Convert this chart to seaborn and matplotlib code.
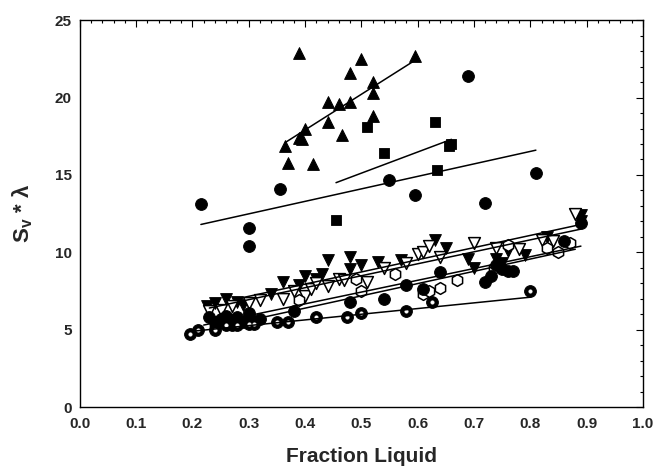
import numpy as np
import pandas as pd
import matplotlib
matplotlib.use('Agg')
import matplotlib.pyplot as plt
import seaborn as sns
from matplotlib.ticker import MultipleLocator

# ---- data ----
# filled up-triangles
tri_up_x = [0.39, 0.50, 0.595, 0.48, 0.52, 0.52, 0.44, 0.46, 0.48, 0.44, 0.52, 0.40,
            0.39, 0.395, 0.465, 0.365, 0.37, 0.415]
tri_up_y = [22.9, 22.5, 22.7, 21.6, 21.0, 20.3, 19.7, 19.6, 19.7, 18.4, 18.8, 18.0,
            17.4, 17.3, 17.6, 16.9, 15.8, 15.7]
# filled squares
square_x = [0.51, 0.63, 0.54, 0.66, 0.655, 0.635, 0.455]
square_y = [18.1, 18.4, 16.4, 17.0, 16.9, 15.3, 12.1]
# filled circles (upper group)
circ_hi_x = [0.215, 0.355, 0.55, 0.595, 0.69, 0.81, 0.72, 0.30, 0.30]
circ_hi_y = [13.1, 14.1, 14.7, 13.7, 21.4, 15.1, 13.2, 11.6, 10.4]
# filled down-triangles
tri_dn_x = [0.225, 0.24, 0.26, 0.28, 0.29, 0.34, 0.36, 0.39, 0.40, 0.42, 0.43, 0.44,
            0.48, 0.48, 0.50, 0.53, 0.57, 0.63, 0.65, 0.69, 0.70, 0.74, 0.75, 0.76,
            0.79, 0.83, 0.89, 0.89]
tri_dn_y = [6.5, 6.7, 7.0, 6.8, 6.6, 7.3, 8.1, 7.9, 8.5, 8.3, 8.6, 9.5,
            9.7, 8.9, 9.2, 9.4, 9.5, 10.8, 10.3, 9.6, 9.0, 9.6, 9.3, 10.1,
            9.8, 11.0, 12.4, 12.0]
# open down-triangles
tri_open_x = [0.23, 0.25, 0.27, 0.30, 0.32, 0.36, 0.38, 0.40, 0.41, 0.42, 0.44, 0.46,
              0.47, 0.51, 0.54, 0.58, 0.60, 0.61, 0.62, 0.64, 0.70, 0.74, 0.78, 0.82,
              0.84, 0.88]
tri_open_y = [6.2, 6.3, 6.5, 6.7, 6.9, 7.0, 7.5, 7.2, 7.6, 8.0, 7.8, 8.3,
              8.2, 8.1, 9.0, 9.3, 9.9, 10.0, 10.4, 9.7, 10.6, 10.3, 10.2, 10.8,
              10.7, 12.5]
# open hexagons
hex_x = [0.24, 0.39, 0.49, 0.50, 0.56, 0.61, 0.62, 0.64, 0.67, 0.735, 0.76, 0.83, 0.85, 0.87]
hex_y = [5.2, 6.9, 8.3, 7.5, 8.6, 7.3, 7.5, 7.7, 8.2, 9.0, 10.5, 10.3, 10.0, 10.6]
# filled circles (lower group)
circ_lo_x = [0.23, 0.24, 0.25, 0.26, 0.27, 0.28, 0.29, 0.30, 0.30, 0.27, 0.31, 0.32,
             0.38, 0.48, 0.54, 0.58, 0.64, 0.61, 0.72, 0.73, 0.75, 0.76, 0.77, 0.74,
             0.86, 0.89]
circ_lo_y = [5.8, 5.5, 5.7, 5.9, 5.6, 5.8, 5.5, 5.9, 6.1, 5.3, 5.5, 5.7,
             6.2, 6.8, 7.0, 7.9, 8.7, 7.6, 8.1, 8.5, 8.9, 8.8, 8.8, 9.2,
             10.7, 11.9]
# dotted circles
dot_x = [0.195, 0.21, 0.24, 0.26, 0.28, 0.30, 0.31, 0.35, 0.37, 0.42, 0.475, 0.50,
         0.58, 0.625, 0.80]
dot_y = [4.7, 5.0, 5.0, 5.3, 5.3, 5.4, 5.4, 5.5, 5.5, 5.8, 5.8, 6.1, 6.2, 6.8, 7.5]

# fitted lines (end points)
fit_tri_up = ([0.365, 0.595], [17.1, 22.4])
fit_square = ([0.455, 0.66], [14.5, 17.3])
fit_circ_hi = ([0.215, 0.81], [11.8, 16.6])
fit_tri_dn = ([0.28, 0.89], [7.0, 11.8])
fit_tri_open = ([0.23, 0.89], [6.4, 11.5])
fit_hex = ([0.30, 0.88], [5.6, 10.2])
fit_circ_lo = ([0.22, 0.89], [5.3, 10.4])
fit_dot = ([0.20, 0.80], [4.9, 7.1])

sns.set_style('white')
plt.rcParams['font.family'] = ['Liberation Sans', 'DejaVu Sans']

fig = plt.figure(figsize=(6.6, 4.69), dpi=100)
ax = fig.add_axes([0.121, 0.132, 0.853, 0.825])

# regression lines
for fx, fy in [fit_tri_up, fit_square, fit_circ_hi, fit_tri_dn, fit_tri_open,
               fit_hex, fit_circ_lo, fit_dot]:
    sns.lineplot(x=fx, y=fy, ax=ax, color='black', lw=1.1)

ms = 72
sns.scatterplot(x=tri_up_x, y=tri_up_y, marker='^', s=ms, color='black', edgecolor='black', ax=ax)
sns.scatterplot(x=square_x, y=square_y, marker='s', s=ms * 0.8, color='black', edgecolor='black', ax=ax)
sns.scatterplot(x=circ_hi_x, y=circ_hi_y, marker='o', s=ms, color='black', edgecolor='black', ax=ax)
sns.scatterplot(x=tri_dn_x, y=tri_dn_y, marker='v', s=ms, color='black', edgecolor='black', ax=ax)
sns.scatterplot(x=tri_open_x, y=tri_open_y, marker='v', s=ms, color='white', edgecolor='black',
                linewidth=1.1, ax=ax)
sns.scatterplot(x=hex_x, y=hex_y, marker='h', s=ms, color='white', edgecolor='black',
                linewidth=1.1, ax=ax)
sns.scatterplot(x=circ_lo_x, y=circ_lo_y, marker='o', s=ms, color='black', edgecolor='black', ax=ax)
sns.scatterplot(x=dot_x, y=dot_y, marker='o', s=ms, color='black', edgecolor='black', ax=ax)
sns.scatterplot(x=dot_x, y=dot_y, marker='o', s=7, color='white', edgecolor='white', ax=ax)

ax.set_xlim(0, 1.0)
ax.set_ylim(0, 25)
ax.xaxis.set_major_locator(MultipleLocator(0.1))
ax.xaxis.set_minor_locator(MultipleLocator(0.02))
ax.yaxis.set_major_locator(MultipleLocator(5))
ax.yaxis.set_minor_locator(MultipleLocator(1))
ax.xaxis.set_major_formatter(plt.FuncFormatter(lambda v, p: f'{v:.1f}'))
ax.tick_params(which='both', direction='in', top=True, right=True, color='black', width=0.8)
ax.tick_params(which='major', length=5, labelsize=11)
ax.tick_params(which='minor', length=2.5)
ax.tick_params(axis='x', which='major', pad=7)
ax.tick_params(axis='y', which='major', pad=6)
for lab in ax.get_xticklabels() + ax.get_yticklabels():
    lab.set_fontweight('bold')
for sp in ax.spines.values():
    sp.set_color('black')
    sp.set_linewidth(1.0)

ax.set_xlabel('Fraction Liquid', fontsize=15, fontweight='bold', labelpad=12)
ax.set_ylabel('S$_\\mathregular{v}$ * λ', fontsize=16, fontweight='bold', labelpad=14)

fig.savefig('out.png', dpi=100)
